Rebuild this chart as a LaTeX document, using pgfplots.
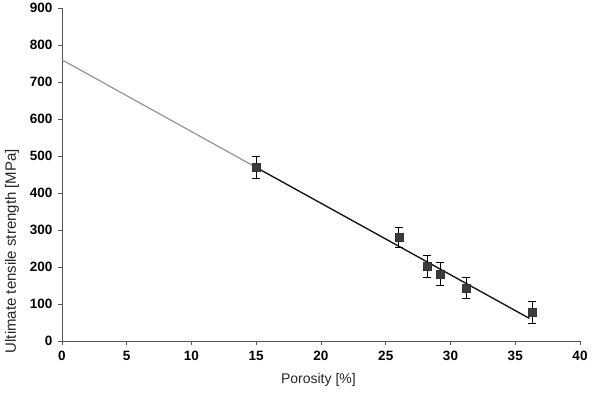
\documentclass[border=0pt]{standalone}
\usepackage{fontspec}
\setmainfont{Liberation Sans}
\usepackage{pgfplots}
\pgfplotsset{compat=1.18}
\definecolor{axgray}{HTML}{555555}
\definecolor{sqfill}{HTML}{3C3C3C}
\begin{document}
\begin{tikzpicture}
\begin{axis}[
  scale only axis,
  width=518pt, height=333pt,
  xmin=0, xmax=40, ymin=0, ymax=900,
  axis lines*=left,
  axis line style={axgray, line width=0.8pt, -},
  xtick={0,5,...,40}, ytick={0,100,...,900},
  tick align=outside, major tick length=4pt,
  tick style={axgray, line width=0.8pt},
  /pgf/number format/assume math mode=true,
  tick label style={font=\fontsize{13.5}{15}\selectfont\bfseries, text=black},
  xticklabel style={yshift=-3pt},
  yticklabel style={xshift=-2pt},
  xlabel={Porosity [\%]}, ylabel={Ultimate tensile strength [MPa]},
  xlabel style={font=\fontsize{14}{16}\selectfont, text=black!85,
    at={(axis description cs:0.495,0)}, anchor=center, yshift=-39pt},
  ylabel style={font=\fontsize{15}{17}\selectfont, text=black!85,
    at={(axis description cs:0,0.27)}, anchor=center, yshift=50pt},
  clip=false,
]
\addplot[color=gray!85, line width=1.2pt] coordinates {(0,760) (15,469)};
\addplot[color=black!90, line width=1.4pt] coordinates {(15,469) (36.1,61)};
\addplot[only marks, mark=square*, mark size=4pt,
  mark options={fill=sqfill, draw=black!80, line width=0.4pt},
  error bars/.cd, y dir=both, y explicit,
  error bar style={black, line width=0.9pt},
  error mark options={rotate=90, mark size=3.8pt, black, line width=0.9pt}]
  table[x=x, y=y, y error=e] {
x y e
15 470 30
26 280 28
28.2 201 30
29.2 181 30
31.2 143 29
36.3 77 29
};
\end{axis}
\pgfresetboundingbox
\path[use as bounding box] (-62pt,-51pt) rectangle (530pt,341pt);
\end{tikzpicture}
\end{document}
